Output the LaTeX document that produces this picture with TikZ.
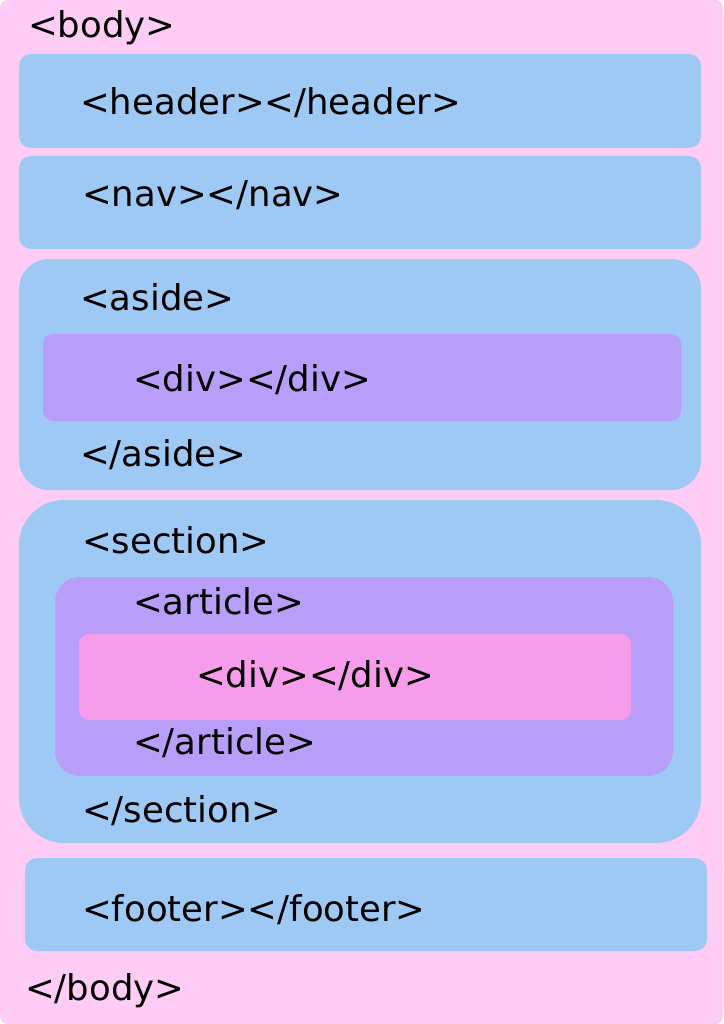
\documentclass[tikz,border=0pt]{standalone}
\usepackage{fontspec}
\setmainfont{DejaVu Sans}
\begin{document}
\begin{tikzpicture}[x=1pt,y=-1pt,
  blue/.style={fill=blueC,draw=none},
  purp/.style={fill=purpC,draw=none},
  pinkb/.style={fill=pinkC,draw=none},
  lbl/.style={anchor=west,inner sep=0pt,yshift=-8pt,font=\fontsize{35.5}{40}\selectfont,text height=0.75em,text depth=0.22em}]
\definecolor{bgC}{HTML}{FFCCF6}
\definecolor{blueC}{HTML}{9FC9F5}
\definecolor{purpC}{HTML}{B89EF9}
\definecolor{pinkC}{HTML}{F59CEB}
\useasboundingbox (0,0) rectangle (723,1024);
\fill[bgC,rounded corners=8pt] (0,0) rectangle (723,1024);
\fill[blue,rounded corners=12pt] (19,54) rectangle (701,148);
\fill[blue,rounded corners=12pt] (19,156) rectangle (701,249);
\fill[blue,rounded corners=30pt] (19,259) rectangle (701,490);
\fill[purp,rounded corners=10pt] (43,334) rectangle (681,421);
\fill[blue,rounded corners=45pt] (19,500) rectangle (701,843);
\fill[purp,rounded corners=25pt] (55,577) rectangle (673,776);
\fill[pinkb,rounded corners=10pt] (79,634) rectangle (631,720);
\fill[blue,rounded corners=12pt] (25,858) rectangle (707,951);
\node[lbl] (body) at (28,27) {<body>};
\node[lbl] (header) at (80,104) {<header></header>};
\node[lbl] (nav) at (82,196) {<nav></nav>};
\node[lbl] (aside) at (80,300) {<aside>};
\node[lbl] (div1) at (133,381) {<div></div>};
\node[lbl] (easide) at (80,456) {</aside>};
\node[lbl] (section) at (82,543) {<section>};
\node[lbl] (article) at (133,604) {<article>};
\node[lbl] (div2) at (196,677) {<div></div>};
\node[lbl] (earticle) at (133,744) {</article>};
\node[lbl] (esection) at (82,812) {</section>};
\node[lbl] (footer) at (82,911) {<footer></footer>};
\node[lbl] (ebody) at (25,990) {</body>};
\end{tikzpicture}
\end{document}
